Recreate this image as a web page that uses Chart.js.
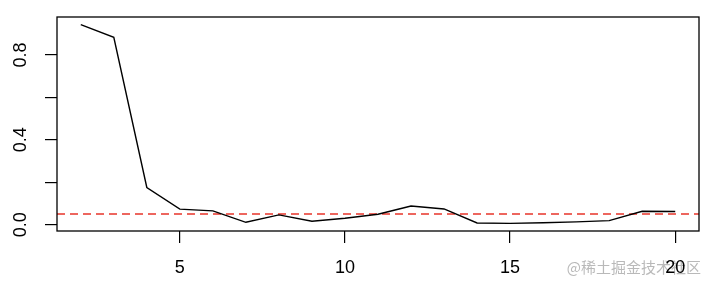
<!DOCTYPE html>
<html>
<head>
<meta charset="utf-8">
<script src="https://cdn.jsdelivr.net/npm/chart.js@4/dist/chart.umd.min.js"></script>
<style>
  html, body { margin: 0; padding: 0; background: #fff; }
  #grafico { display: block; }
</style>
</head>
<body>
<canvas id="grafico" width="706" height="286"></canvas>
<script>
// valores (lags 2..20)
const lags = [2, 3, 4, 5, 6, 7, 8, 9, 10, 11, 12, 13, 14, 15, 16, 17, 18, 19, 20];
const valores = [0.943, 0.883, 0.175, 0.073, 0.065, 0.011, 0.046, 0.016, 0.030, 0.049,
                 0.088, 0.074, 0.008, 0.006, 0.009, 0.013, 0.019, 0.063, 0.062];
const limiar = 0.05;

const xTicks = [5, 10, 15, 20];
const yTicks = [0, 0.2, 0.4, 0.6, 0.8];
const yLabels = ["0.0", "", "0.4", "", "0.8"];
const xMin = 1.28, xMax = 20.72;
const yMin = -0.03, yMax = 0.979;

const marcaDagua = "@稀土掘金技术社区";
const fonte = "'Liberation Sans', Arial, sans-serif";

// caixa, rótulos do eixo y (girados como no R) e marca d'água
const extras = {
  id: "extras",
  beforeDraw(chart) {
    const ctx = chart.ctx;
    ctx.save();
    ctx.fillStyle = "#b9b9b9";
    ctx.font = "15px 'Noto Sans CJK SC'";
    ctx.textAlign = "right";
    ctx.textBaseline = "middle";
    ctx.fillText(marcaDagua, 701, 267);
    ctx.restore();
  },
  afterDraw(chart) {
    const ctx = chart.ctx;
    const a = chart.chartArea;
    ctx.save();
    ctx.strokeStyle = "#000";
    ctx.lineWidth = 1.3;
    ctx.strokeRect(a.left, a.top, a.right - a.left, a.bottom - a.top);

    const y = chart.scales.y;
    ctx.fillStyle = "#000";
    ctx.font = "18px " + fonte;
    ctx.textAlign = "center";
    ctx.textBaseline = "middle";
    y.ticks.forEach(t => {
      const txt = yLabels[yTicks.indexOf(t.value)];
      if (!txt) return;
      ctx.save();
      ctx.translate(21.5, y.getPixelForValue(t.value));
      ctx.rotate(-Math.PI / 2);
      ctx.fillText(txt, 0, 0);
      ctx.restore();
    });
    ctx.restore();
  }
};

new Chart(document.getElementById("grafico").getContext("2d"), {
  type: "line",
  data: {
    datasets: [
      {
        data: lags.map((x, i) => ({ x: x, y: valores[i] })),
        borderColor: "#000",
        borderWidth: 1.4,
        pointRadius: 0,
        tension: 0,
        fill: false
      },
      {
        data: [{ x: xMin, y: limiar }, { x: xMax, y: limiar }],
        borderColor: "rgb(232, 52, 42)",
        borderWidth: 1.6,
        borderDash: [8, 5],
        pointRadius: 0,
        fill: false
      }
    ]
  },
  options: {
    responsive: false,
    animation: false,
    devicePixelRatio: 1,
    layout: { padding: { top: 17, right: 7, left: 0, bottom: 0 } },
    plugins: {
      legend: { display: false },
      tooltip: { enabled: false }
    },
    scales: {
      x: {
        type: "linear",
        min: xMin,
        max: xMax,
        afterBuildTicks: s => { s.ticks = xTicks.map(v => ({ value: v })); },
        afterFit: s => { s.height = 55; },
        grid: { drawOnChartArea: false, tickLength: 12, color: "#000", lineWidth: 1.2 },
        border: { display: false },
        ticks: {
          color: "#000",
          font: { size: 18, family: fonte },
          padding: 14,
          maxRotation: 0,
          callback: v => String(v)
        }
      },
      y: {
        min: yMin,
        max: yMax,
        afterBuildTicks: s => { s.ticks = yTicks.map(v => ({ value: v })); },
        afterFit: s => { s.width = 57; },
        grid: { drawOnChartArea: false, tickLength: 12, color: "#000", lineWidth: 1.2 },
        border: { display: false },
        ticks: { display: false }
      }
    }
  },
  plugins: [extras]
});
</script>
</body>
</html>
